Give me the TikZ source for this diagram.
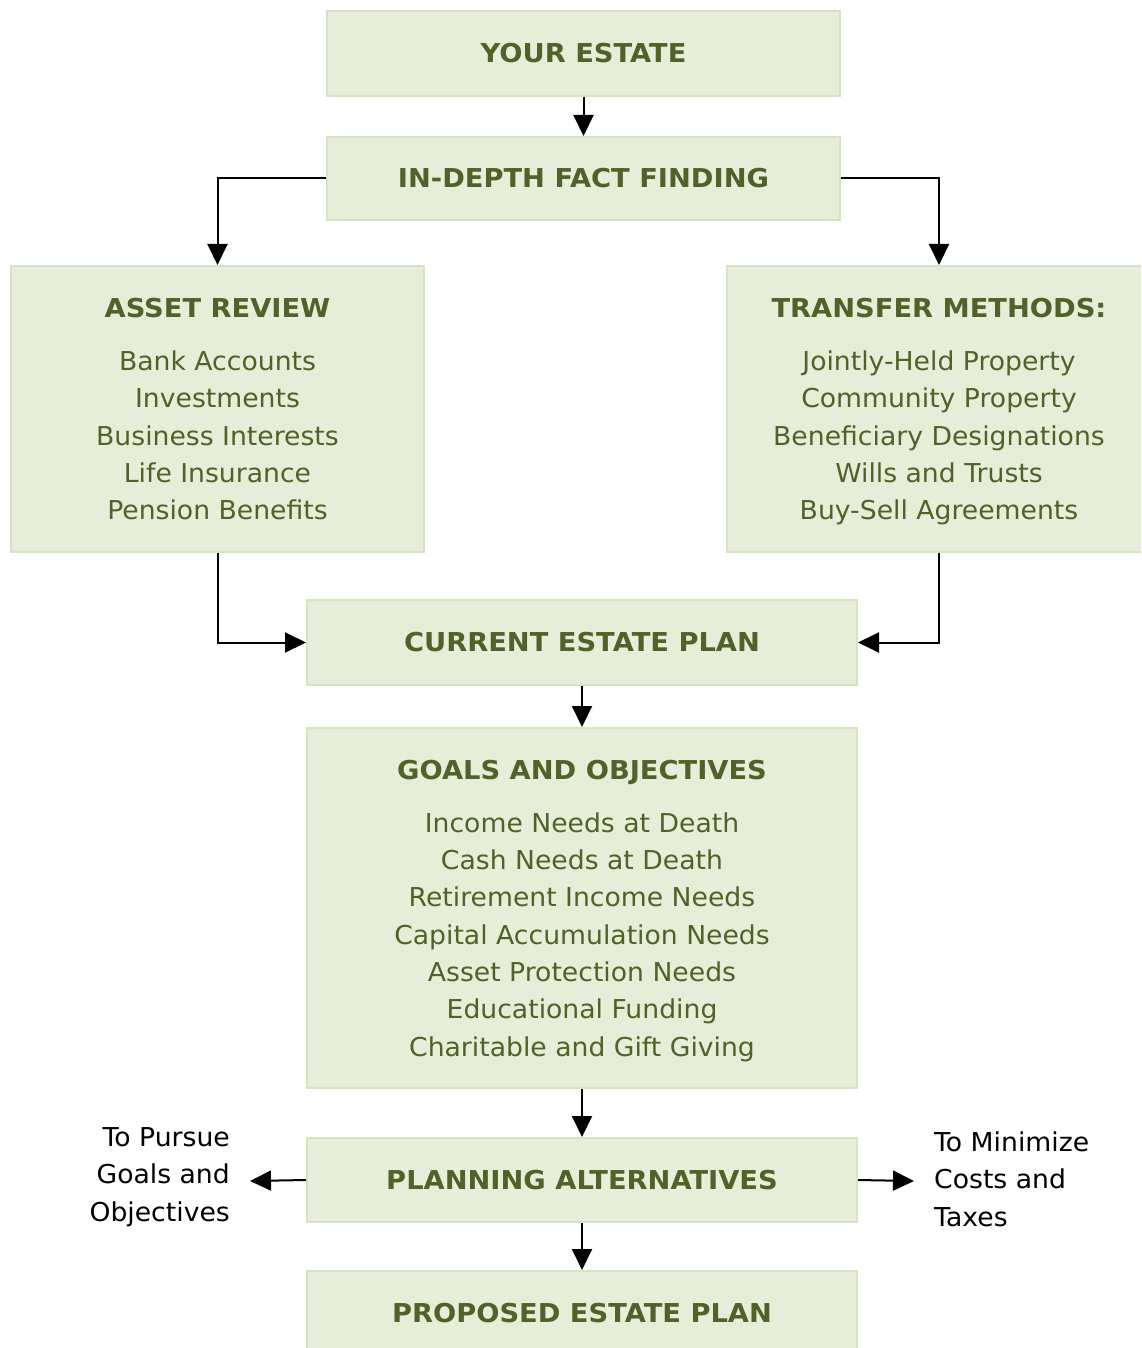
\documentclass[tikz,border=0pt]{standalone}
\usepackage{fontspec}
\setmainfont{DejaVu Sans}[FakeStretch=1.025, BoldFeatures={FakeStretch=1.05}]
\usetikzlibrary{arrows.meta}
\definecolor{boxfill}{HTML}{E6EED9}
\definecolor{boxline}{HTML}{D7E4BD}
\definecolor{txt}{HTML}{4F6228}
\newcommand{\botstrut}{\rule[-7pt]{0pt}{7pt}}
\tikzset{
  box/.style={draw=boxline, fill=boxfill, line width=2pt, inner sep=0pt,
    text=txt, align=center, font=\fontsize{26}{37.3}\selectfont},
  arr/.style={line width=2pt, -{Triangle[length=21pt,width=20pt]}},
  side/.style={inner sep=0pt, text=black, font=\fontsize{26}{37.5}\selectfont}
}
\begin{document}
\begin{tikzpicture}[x=1pt,y=-1pt]
\useasboundingbox (0,0) rectangle (1141,1348);
\clip (0,0) rectangle (1141,1348);
\node[box, minimum width=513pt, minimum height=85pt] (ye) at (583.5,53.5) {\bfseries YOUR ESTATE};
\node[box, minimum width=513pt, minimum height=83pt] (ff) at (583.5,178.5) {\bfseries IN-DEPTH FACT FINDING};
\node[box, minimum width=413pt, minimum height=286pt] (ar) at (217.5,409) {{\bfseries\strut ASSET REVIEW}\\[16pt]Bank Accounts\\Investments\\Business Interests\\Life Insurance\\Pension Benefits\botstrut};
\node[box, minimum width=424pt, minimum height=286pt] (tm) at (939,409) {{\bfseries\strut TRANSFER METHODS:}\\[16pt]Jointly-Held Property\\Community Property\\Beneficiary Designations\\Wills and Trusts\\Buy-Sell Agreements\botstrut};
\node[box, minimum width=550pt, minimum height=85pt] (cp) at (582,642.5) {\bfseries CURRENT ESTATE PLAN};
\node[box, minimum width=550pt, minimum height=360pt] (go) at (582,908) {{\bfseries\strut GOALS AND OBJECTIVES}\\[16pt]Income Needs at Death\\Cash Needs at Death\\Retirement Income Needs\\Capital Accumulation Needs\\Asset Protection Needs\\Educational Funding\\Charitable and Gift Giving\botstrut};
\node[box, minimum width=550pt, minimum height=84pt] (pa) at (582,1180) {\bfseries PLANNING ALTERNATIVES};
\node[box, minimum width=550pt, minimum height=85pt] (pp) at (582,1313.5) {\bfseries PROPOSED ESTATE PLAN};
\node[side, align=right, anchor=east] (lt) at (230,1177) {To Pursue\\Goals and\\Objectives};
\node[side, align=left, anchor=west] (rt) at (934,1179) {To Minimize\\Costs and\\Taxes};
\coordinate (la) at (250,1181);
\coordinate (ra) at (914,1181);
\draw[arr] (ye.south) -- (ff.north);
\draw[arr] (ff.west) -| (ar.north);
\draw[arr] (ff.east) -| (tm.north);
\draw[arr] (ar.south) |- (cp.west);
\draw[arr] (tm.south) |- (cp.east);
\draw[arr] (cp.south) -- (go.north);
\draw[arr] (go.south) -- (pa.north);
\draw[arr] (pa.west) -- (la);
\draw[arr] (pa.east) -- (ra);
\draw[arr] (pa.south) -- (pp.north);
\end{tikzpicture}
\end{document}
